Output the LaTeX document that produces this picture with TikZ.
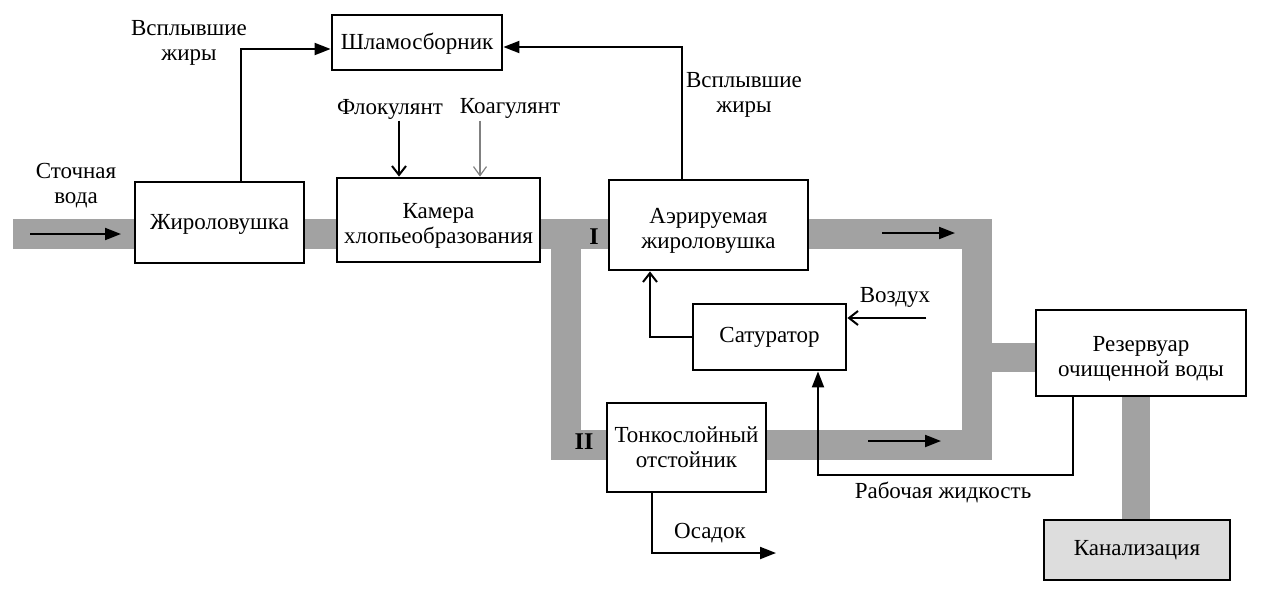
\documentclass[tikz,border=0pt]{standalone}
\usepackage{fontspec}
\setmainfont{Liberation Serif}
\usetikzlibrary{arrows.meta,backgrounds}
\definecolor{pipegray}{HTML}{A2A2A2}
\definecolor{kangray}{HTML}{DDDDDD}
\begin{document}
\begin{tikzpicture}[x=1pt,y=-1pt,
 every node/.style={font=\fontsize{23}{25}\selectfont, inner sep=0pt},
 box/.style={draw, line width=2.8pt, fill=white, align=center},
 pipe/.style={line width=30pt, draw=pipegray, line join=miter},
 flow/.style={line width=2pt, -{Triangle[length=16pt,width=12pt]}},
 openarrow/.style={line width=2pt, -{Straight Barb[length=9pt,width=14pt]}},
 lbl/.style={align=center},
 roman/.style={font=\bfseries\fontsize{24}{25}\selectfont},
]
\useasboundingbox (0,0) rectangle (1263,600);

% boxes
\node[box, minimum width=170pt, minimum height=55pt] (shlam) at (417,42.5) {\rule{0pt}{19pt}Шламосборник};
\node[box, minimum width=169pt, minimum height=81pt] (zhir) at (219.5,222.5) {\rule{0pt}{19pt}Жироловушка};
\node[box, minimum width=203pt, minimum height=84pt] (kam) at (438.5,220) {\rule{0pt}{27.5pt}Камера\\хлопьеобразования};
\node[box, minimum width=199pt, minimum height=90pt] (aer) at (708.5,225) {\rule{0pt}{27pt}Аэрируемая\\жироловушка};
\node[box, minimum width=153pt, minimum height=66pt] (sat) at (769.5,337) {Сатуратор};
\node[box, minimum width=159pt, minimum height=89pt] (tonk) at (686.5,447.5) {Тонкослойный\\отстойник};
\node[box, minimum width=210pt, minimum height=86pt] (rez) at (1141,353) {\rule{0pt}{26pt}Резервуар\\очищенной воды};
\node[box, fill=kangray, minimum width=186pt, minimum height=60pt] (kan) at (1137,550) {Канализация};

% pipes
\coordinate (pin) at (13,233.5);
\coordinate (pr) at (977,233.5);
\coordinate (prb) at (977,444.5);
\coordinate (plb) at (566,444.5);
\coordinate (plt) at (566,233.5);
\begin{pgfonlayer}{background}
\draw[pipe] (pin) -- (pr) -- (prb) -- (plb) -- (plt);
\draw[pipe, line width=29pt] (977,357.5) -- ([yshift=-4.5pt]rez.west);
\draw[pipe, line width=28pt] ([xshift=-5pt]rez.south) -- ([xshift=-1pt]kan.north);
\end{pgfonlayer}

% flow arrows in pipes
\coordinate (a1s) at (30,234);
\coordinate (a1e) at (121,234);
\coordinate (a2s) at (882,233);
\coordinate (a2e) at (955,233);
\coordinate (a3s) at (868,441);
\coordinate (a3e) at (941,441);
\draw[flow] (a1s) -- (a1e);
\draw[flow] (a2s) -- (a2e);
\draw[flow] (a3s) -- (a3e);

% roman labels
\node[roman] (r1) at (594,237) {I};
\node[roman] (r2) at (584,442) {II};

% text labels
\node[lbl] (vzh1) at (189,42.5) {Всплывшие\\жиры};
\node[lbl] (vzh2) at (744,94.5) {Всплывшие\\жиры};
\node[lbl] (stoch) at (76,185.5) {Сточная\\вода};
\node (flok) at (390,109) {Флокулянт};
\node (koag) at (510,108) {Коагулянт};
\node (vozd) at (895,297) {Воздух};
\node (rab) at (943,492) {Рабочая жидкость};
\node (osad) at (710,533) {Осадок};

% connectors
\draw[flow] ([xshift=21.5pt]zhir.north) |- ([yshift=-6.5pt]shlam.west);
\draw[flow] ([xshift=-26.5pt]aer.north) |- ([yshift=-4.5pt]shlam.east);
\draw[openarrow] ([xshift=-39.5pt,yshift=56pt]kam.north) -- ([xshift=-39.5pt]kam.north);
\draw[line width=1.2pt, draw=gray, -{Straight Barb[length=9pt,width=13pt]}] ([xshift=41.5pt,yshift=56pt]kam.north) -- ([xshift=41.5pt]kam.north);
\draw[openarrow] (sat.west) -| ([xshift=-58.5pt]aer.south);
\draw[openarrow] ([xshift=79pt,yshift=19pt]sat.east) -- ([yshift=19pt]sat.east);
\draw[flow] ([xshift=-68pt]rez.south) -- ++(0,78) -| ([xshift=48.5pt]sat.south);
\coordinate (osend) at (776,553);
\draw[flow] ([xshift=-34.5pt]tonk.south) |- (osend);
\end{tikzpicture}
\end{document}
